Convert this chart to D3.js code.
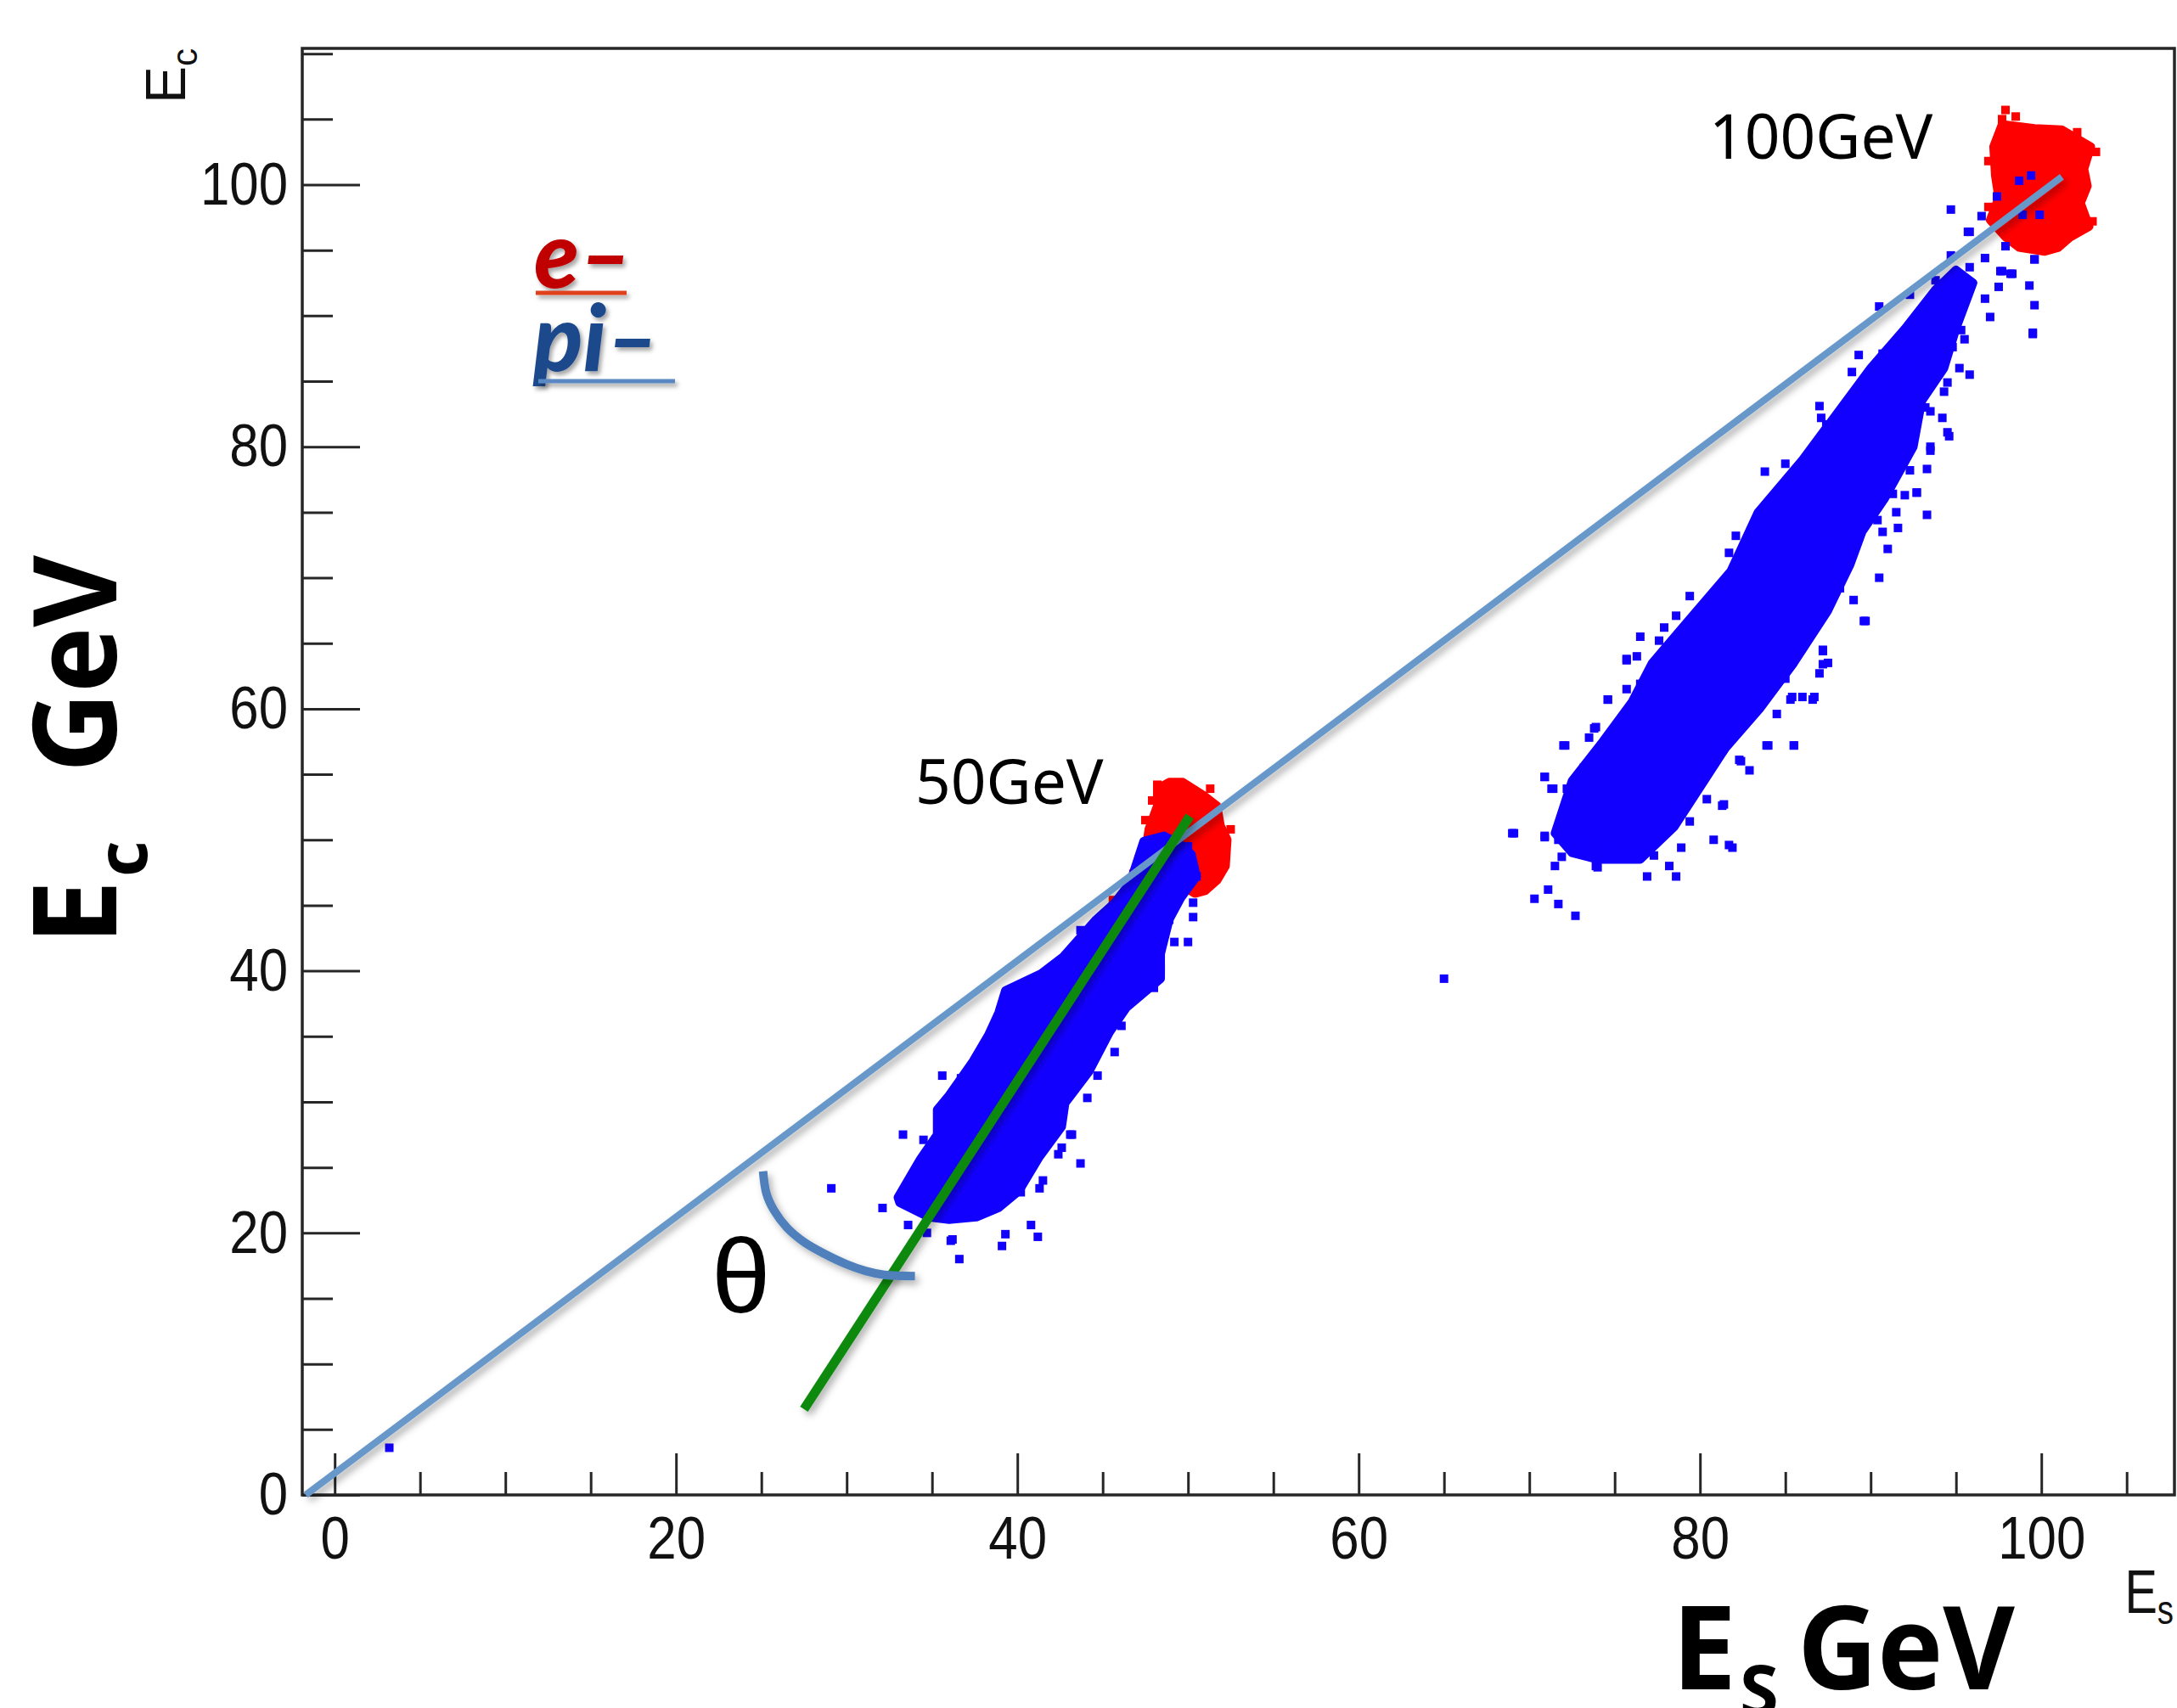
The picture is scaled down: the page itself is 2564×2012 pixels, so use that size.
<!DOCTYPE html>
<html>
<head>
<meta charset="utf-8">
<script src="https://cdn.jsdelivr.net/npm/d3@7/dist/d3.min.js"></script>
<style>
    body { margin: 0; background: #fff; }
    svg { display: block; }
</style>
</head>
<body>
<svg id="chart" width="2564" height="2012"></svg>
<script>
"use strict";

// axis ranges and ticks (ROOT style: major every 20, minor every 5)
const xDomain = [-1.9, 107.8];
const yDomain = [0, 110.4];
const xMajorTicks = [0, 20, 40, 60, 80, 100];
const xTickLabels = ["0", "20", "40", "60", "80", "100"];
const yMajorTicks = [0, 20, 40, 60, 80, 100];
const yTickLabels = ["0", "20", "40", "60", "80", "100"];
const xMinorTicks = [5, 10, 15, 25, 30, 35, 45, 50, 55, 65, 70, 75, 85, 90, 95, 105];
const yMinorTicks = [5, 10, 15, 25, 30, 35, 45, 50, 55, 65, 70, 75, 85, 90, 95, 105, 110];

// e- clusters: dense cores (outline) + loose points
const electronCore50 = [[48.9, 54.4], [49.7, 54.4], [50.9, 53.4], [51.7, 52.6], [51.9, 51.1], [52.3, 50.0],
    [52.2, 48.0], [51.7, 46.9], [51.0, 46.1], [50.4, 45.9], [49.9, 46.3], [49.2, 46.9], [48.7, 47.8],
    [47.5, 49.0], [47.7, 50.8], [48.2, 52.6], [48.2, 53.9]];
const electronCore100 = [[97.7, 104.6], [99.6, 104.3], [101.2, 104.2], [102.9, 102.9], [102.5, 101.2],
    [102.7, 99.9], [102.3, 98.6], [102.8, 96.8], [101.7, 96.0], [101.0, 95.2], [100.2, 94.9], [98.7, 95.2],
    [97.9, 96.0], [97.0, 97.3], [97.5, 99.0], [97.3, 100.7], [97.2, 102.9]];
const electronLoose = [[47.1, 48.5], [45.6, 45.4], [48.2, 54.2], [47.9, 53.0], [52.5, 50.8], [51.3, 53.9],
    [47.5, 51.5], [46.8, 47.4], [97.9, 105.7], [97.7, 105.0], [103.2, 102.5], [103.0, 97.2], [96.9, 101.8],
    [96.9, 98.3], [98.5, 105.2], [102.1, 104.0]];

// pi- clusters
const pionCore50 = [[47.4, 49.9], [48.6, 50.3], [49.6, 49.6], [50.2, 48.9], [50.5, 47.2], [49.6, 45.6],
    [48.9, 43.9], [48.4, 41.3], [48.4, 39.4], [46.4, 37.2], [45.4, 35.3], [44.2, 32.3], [42.8, 29.9],
    [42.6, 28.1], [41.3, 25.8], [40.1, 23.2], [38.9, 21.9], [37.6, 21.2], [36.0, 21.0], [34.8, 21.2],
    [33.1, 22.3], [33.0, 22.7], [34.3, 25.6], [35.3, 27.5], [35.3, 29.4], [36.0, 30.5], [37.4, 33.1],
    [38.3, 35.1], [38.9, 36.8], [39.3, 38.5], [41.4, 39.8], [42.7, 41.1], [44.6, 43.9], [45.7, 45.2],
    [46.6, 46.7]];
const pionCore100 = [[71.5, 50.5], [72.5, 54.5], [74.3, 57.5], [76.0, 60.5], [77.2, 63.5], [79.5, 67.0],
    [81.8, 70.5], [83.4, 75.0], [86.0, 79.0], [88.0, 82.5], [90.0, 86.0], [92.0, 89.0], [93.8, 92.0],
    [95.0, 93.5], [96.0, 92.5], [95.0, 89.0], [94.3, 86.0], [93.0, 83.5], [92.5, 80.0], [90.8, 76.0],
    [89.5, 73.5], [88.8, 71.0], [87.5, 67.5], [85.5, 63.5], [83.5, 60.0], [81.5, 57.0], [80.0, 54.0],
    [78.5, 51.0], [76.5, 48.5], [74.0, 48.5], [72.5, 49.0]];
const pionLoose50 = [[29.1, 23.4], [32.1, 21.9], [33.3, 27.5], [34.5, 27.1], [33.6, 20.6], [34.7, 20.0],
    [36.2, 19.5], [36.6, 18.0], [39.1, 19.0], [39.3, 19.9], [40.8, 20.6], [41.2, 19.7], [41.5, 24.0],
    [43.1, 27.5], [43.7, 25.3], [42.4, 26.0], [40.2, 23.1], [41.3, 23.4], [42.6, 26.5], [36.1, 19.4],
    [47.6, 49.8], [50.3, 45.2], [50.3, 44.1], [49.2, 42.2], [50.0, 42.2], [48.0, 38.7], [46.1, 35.8],
    [45.7, 33.8], [44.7, 32.0], [44.1, 30.3], [43.2, 27.5], [43.7, 43.1], [42.9, 40.7], [38.4, 35.0],
    [35.6, 32.0], [36.7, 31.8], [37.6, 32.9], [39.6, 38.5], [48.4, 40.2], [50.0, 49.5], [49.4, 48.9],
    [50.5, 47.2], [48.4, 45.9], [46.4, 46.1], [48.9, 43.9], [48.1, 42.6], [48.4, 41.3], [47.4, 39.6]];
const pionLoose100 = [
    // lower half of the 100 GeV band
    [82.1, 73.2], [81.7, 71.9], [79.4, 68.6], [78.6, 67.1], [77.9, 66.2], [76.5, 65.5], [77.6, 65.2],
    [75.7, 63.8], [76.3, 64.0], [75.7, 61.5], [74.6, 60.7], [73.9, 58.6], [73.5, 57.8], [72.0, 57.2],
    [70.9, 54.8], [71.4, 53.9], [72.2, 53.9], [73.0, 53.9], [73.4, 55.7], [69.1, 50.5], [70.9, 50.2],
    [72.0, 50.6], [71.7, 50.0], [72.7, 49.1], [71.9, 48.7], [71.5, 48.0], [73.9, 48.0], [74.6, 49.0],
    [76.9, 47.2], [78.2, 48.0], [78.9, 49.4], [80.8, 50.0], [81.9, 49.4], [81.3, 52.6], [80.4, 53.1],
    [79.4, 51.4], [85.4, 60.9], [86.0, 60.9], [86.7, 60.9], [84.5, 59.6], [84.0, 57.2], [85.5, 57.2],
    [82.9, 55.3], [82.4, 56.0], [87.2, 64.4], [87.2, 63.4], [87.0, 62.7], [88.2, 69.2], [89.0, 68.3],
    [89.6, 66.7], [87.9, 71.6], [88.0, 72.7], [85.0, 62.3], [72.7, 44.2], [71.7, 45.1], [71.1, 46.2],
    [70.3, 45.5], [69.0, 50.5], [70.9, 50.3], [71.3, 53.9], [70.9, 54.8], [72.1, 57.2], [73.8, 58.5],
    [74.6, 60.7], [75.7, 63.7], [78.6, 47.2], [77.3, 48.8], [75.9, 48.8], [74.0, 47.9], [81.7, 49.6],
    [81.4, 52.7], [82.3, 56.1], [83.9, 57.2], [85.5, 57.2], [85.3, 60.7], [86.6, 60.7], [87.5, 63.5],
    [87.2, 64.5], [89.7, 66.7], [90.5, 70.0], [76.5, 61.9], [73.2, 55.5], [75.1, 50.7], [73.2, 49.6],
    // upper half of the 100 GeV band
    [95.7, 96.4], [94.7, 94.6], [96.7, 94.4], [97.6, 93.4], [98.2, 93.2], [99.6, 94.3], [99.3, 92.3],
    [99.6, 90.8], [99.5, 88.6], [97.0, 89.9], [96.7, 91.3], [97.5, 92.2], [95.8, 93.7], [95.2, 92.6],
    [93.8, 92.7], [93.5, 91.0], [94.5, 91.5], [90.5, 90.7], [92.3, 91.6], [93.2, 89.5], [93.7, 88.6],
    [94.5, 89.7], [95.3, 88.9], [95.5, 88.2], [94.8, 87.6], [93.8, 87.8], [93.5, 86.9], [92.8, 87.3],
    [91.3, 87.3], [90.7, 87.1], [89.3, 87.0], [88.9, 85.7], [91.2, 86.0], [92.2, 85.8], [95.2, 86.0],
    [95.8, 85.5], [94.5, 84.9], [93.2, 84.5], [92.2, 84.3], [90.7, 84.8], [87.0, 83.1], [88.7, 83.5],
    [89.9, 83.5], [93.2, 83.0], [94.2, 82.2], [94.5, 81.1], [93.5, 80.0], [93.3, 78.3], [92.3, 78.2],
    [92.0, 76.3], [92.7, 76.5], [91.5, 75.0], [93.3, 74.8], [90.4, 74.4], [90.7, 73.5], [91.0, 72.2],
    [83.8, 78.1], [85.0, 78.7], [87.1, 82.2], [87.4, 81.7], [88.5, 83.0], [94.3, 84.2], [93.5, 82.7],
    [94.6, 80.8], [93.5, 79.7], [92.7, 76.5], [91.3, 76.4], [91.6, 73.8], [94.9, 92.4], [93.8, 87.1],
    // next to the 100 GeV electrons
    [98.7, 100.3], [99.4, 100.7], [97.4, 99.1], [98.9, 97.7], [99.9, 97.7], [97.9, 95.3], [99.6, 94.3],
    [99.5, 88.7], [94.7, 98.1], [96.5, 97.6], [95.8, 96.4], [98.3, 93.2], [97.7, 93.4]];
const pionStray = [[3.2, 3.6], [65.0, 39.4]];

// drawn overlays
const diagonalLine = [[-1.7, 0], [101.2, 100.6]];
const pionFitLine = [[27.5, 6.55], [50.1, 51.8]];
const thetaArc = [[25.1, 24.7], [25.3, 23.0], [25.75, 21.7], [26.5, 20.4], [27.5, 19.3], [28.7, 18.4],
    [30.0, 17.6], [31.1, 17.1], [32.2, 16.8], [34.0, 16.7]];

(function () {
    const W = 2564, H = 2012;
    const frame = {left: 356, top: 57, right: 2561, bottom: 1761};
    const MARKER = 10;
    const BLUE = "#1200ff", RED = "#ff0000";

    const svg = d3.select("#chart");

    const x = d3.scaleLinear().domain(xDomain).range([frame.left, frame.right]);
    const y = d3.scaleLinear().domain(yDomain).range([frame.bottom, frame.top]);

    const defs = svg.append("defs");
    const shadow = defs.append("filter").attr("id", "shadow")
        .attr("filterUnits", "userSpaceOnUse")
        .attr("x", 0).attr("y", 0).attr("width", W).attr("height", H);
    shadow.append("feDropShadow")
        .attr("dx", 4).attr("dy", 5).attr("stdDeviation", 4)
        .attr("flood-color", "#000").attr("flood-opacity", 0.3);
    const textShadow = defs.append("filter").attr("id", "text-shadow")
        .attr("filterUnits", "userSpaceOnUse")
        .attr("x", 0).attr("y", 0).attr("width", W).attr("height", H);
    textShadow.append("feDropShadow")
        .attr("dx", 3).attr("dy", 4).attr("stdDeviation", 2.5)
        .attr("flood-color", "#000").attr("flood-opacity", 0.35);

    const plot = svg.append("g");
    const outline = d3.line().x(d => x(d[0])).y(d => y(d[1])).curve(d3.curveLinearClosed);

    function squares(data, color) {
        plot.append("g").selectAll("rect")
            .data(data)
            .enter()
            .append("rect")
            .attr("x", d => x(d[0]) - MARKER / 2)
            .attr("y", d => y(d[1]) - MARKER / 2)
            .attr("width", MARKER)
            .attr("height", MARKER)
            .attr("fill", color);
    }

    function core(data, color) {
        plot.append("path").attr("d", outline(data)).attr("fill", color)
            .attr("stroke", color).attr("stroke-width", 10).attr("stroke-linejoin", "round");
    }

    // e- first, pi- on top
    core(electronCore50, RED);
    core(electronCore100, RED);
    squares(electronLoose, RED);

    core(pionCore50, BLUE);
    core(pionCore100, BLUE);
    squares(pionLoose50, BLUE);
    squares(pionLoose100, BLUE);
    squares(pionStray, BLUE);

    // frame
    svg.append("rect")
        .attr("x", frame.left).attr("y", frame.top)
        .attr("width", frame.right - frame.left)
        .attr("height", frame.bottom - frame.top)
        .attr("fill", "none").attr("stroke", "#262626").attr("stroke-width", 3.5);

    const tickFont = "'Liberation Sans', Arial, Helvetica, sans-serif";

    function styleAxis(g) {
        g.select(".domain").remove();
        g.selectAll(".tick line").attr("stroke", "#262626").attr("stroke-width", 3);
        g.selectAll(".tick text")
            .attr("fill", "#111")
            .attr("font-family", tickFont)
            .attr("font-size", 71)
            .attr("transform", "scale(0.87,1)");
    }

    svg.append("g").attr("transform", `translate(0,${frame.bottom})`)
        .call(d3.axisBottom(x).tickValues(xMinorTicks).tickSize(-27).tickSizeOuter(0).tickFormat(""))
        .call(styleAxis);
    svg.append("g").attr("transform", `translate(0,${frame.bottom})`)
        .call(d3.axisBottom(x).tickValues(xMajorTicks).tickSize(-49).tickSizeOuter(0).tickPadding(25)
            .tickFormat((d, i) => xTickLabels[i]))
        .call(styleAxis);
    svg.append("g").attr("transform", `translate(${frame.left},0)`)
        .call(d3.axisLeft(y).tickValues(yMinorTicks).tickSize(-36).tickSizeOuter(0).tickFormat(""))
        .call(styleAxis);
    svg.append("g").attr("transform", `translate(${frame.left},0)`)
        .call(d3.axisLeft(y).tickValues(yMajorTicks).tickSize(-68).tickSizeOuter(0).tickPadding(19.5)
            .tickFormat((d, i) => yTickLabels[i]))
        .call(styleAxis);

    // overlays
    const path = d3.line().x(d => x(d[0])).y(d => y(d[1]));
    svg.append("path").attr("d", path(diagonalLine))
        .attr("fill", "none").attr("stroke", "#6898c9").attr("stroke-width", 8)
        .attr("filter", "url(#shadow)");
    svg.append("path").attr("d", path(pionFitLine))
        .attr("fill", "none").attr("stroke", "#0c8a0c").attr("stroke-width", 11)
        .attr("filter", "url(#shadow)");
    svg.append("path").attr("d", path.curve(d3.curveCatmullRom)(thetaArc))
        .attr("fill", "none").attr("stroke", "#5080bb").attr("stroke-width", 10)
        .attr("filter", "url(#shadow)");

    // annotations
    const noteFont = "'Noto Sans', 'DejaVu Sans', sans-serif";
    svg.append("text").attr("x", 1078).attr("y", 947)
        .attr("font-family", noteFont).attr("font-size", 73).attr("fill", "#000").text("50GeV");
    svg.append("text").attr("x", 2013).attr("y", 187)
        .attr("font-family", noteFont).attr("font-size", 73).attr("fill", "#000").text("100GeV");
    svg.append("text").attr("x", 838).attr("y", 1546)
        .attr("font-family", tickFont).attr("font-size", 125).attr("fill", "#000").text("θ");

    // legend
    const legendFont = "Lato, 'Open Sans', sans-serif";
    svg.append("text").attr("x", 629).attr("y", 339)
        .attr("font-family", legendFont).attr("font-size", 108).attr("font-weight", 900)
        .attr("font-style", "italic").attr("fill", "#c00000").attr("filter", "url(#text-shadow)")
        .text("e–");
    svg.append("line").attr("x1", 631).attr("x2", 738).attr("y1", 345).attr("y2", 345)
        .attr("stroke", "#e0401e").attr("stroke-width", 5).attr("filter", "url(#text-shadow)");
    svg.append("text").attr("x", 628).attr("y", 437)
        .attr("font-family", legendFont).attr("font-size", 108).attr("font-weight", 900)
        .attr("font-style", "italic").attr("fill", "#1f4a8c").attr("filter", "url(#text-shadow)")
        .text("pi–");
    svg.append("line").attr("x1", 634).attr("x2", 795).attr("y1", 449).attr("y2", 449)
        .attr("stroke", "#5a88c2").attr("stroke-width", 5).attr("filter", "url(#text-shadow)");

    // small ROOT axis titles
    const smallX = svg.append("text")
        .attr("transform", "translate(2560,1900) scale(0.8,1)")
        .attr("text-anchor", "end")
        .attr("font-family", tickFont).attr("font-size", 72).attr("fill", "#111");
    smallX.append("tspan").text("E");
    smallX.append("tspan").attr("font-size", 48).attr("dy", 13).text("s");

    const smallY = svg.append("text")
        .attr("transform", "translate(218,57) rotate(-90)")
        .attr("text-anchor", "end")
        .attr("font-family", tickFont).attr("font-size", 66).attr("fill", "#111");
    smallY.append("tspan").text("E");
    smallY.append("tspan").attr("font-size", 42).attr("dy", 14).text("c");

    // big slide titles
    const titleFont = "'Open Sans', 'Noto Sans', sans-serif";
    const bottomTitle = svg.append("g")
        .attr("font-family", titleFont).attr("font-weight", 700).attr("fill", "#000");
    bottomTitle.append("text").attr("x", 1969).attr("y", 1990).attr("font-size", 136).text("E");
    bottomTitle.append("text").attr("x", 2049).attr("y", 2021).attr("font-size", 83).text("S");
    bottomTitle.append("text").attr("x", 2117).attr("y", 1990).attr("font-size", 136)
        .attr("textLength", 256).attr("lengthAdjust", "spacingAndGlyphs").text("GeV");

    const leftTitle = svg.append("g")
        .attr("transform", "translate(137,1113) rotate(-90)")
        .attr("font-family", titleFont).attr("font-weight", 700).attr("fill", "#000");
    leftTitle.append("text").attr("x", 0).attr("y", 0).attr("font-size", 136).text("E");
    leftTitle.append("text").attr("x", 80).attr("y", 36).attr("font-size", 83).text("c");
    leftTitle.append("text").attr("x", 203).attr("y", 0).attr("font-size", 136)
        .attr("textLength", 256).attr("lengthAdjust", "spacingAndGlyphs").text("GeV");
})();
</script>
</body>
</html>
